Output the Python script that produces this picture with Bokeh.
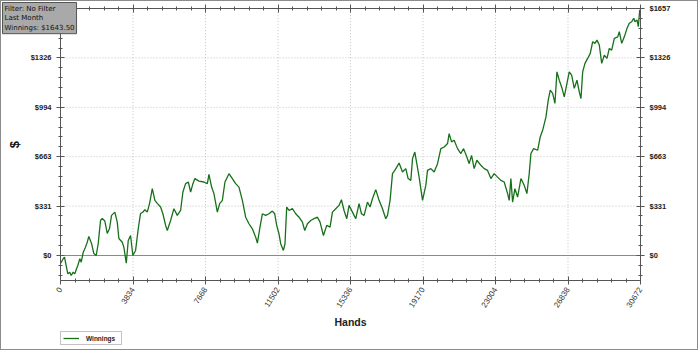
from bokeh.plotting import figure
from bokeh.models import (LinearAxis, FixedTicker, PrintfTickFormatter, Label,
                          Legend, LegendItem, Range1d)
from bokeh.embed import file_html
from bokeh.resources import INLINE

# ---- data ----
hands = [0, 143, 212, 318, 386, 492, 566, 672, 757, 847, 916, 1022, 1096, 1202, 1323, 1413,
         1498, 1641, 1763, 1890, 1995, 2117, 2207, 2345, 2472, 2594, 2699, 2874, 3001, 3086,
         3266, 3350, 3478, 3583, 3705, 3827, 3970, 4113, 4234, 4356, 4462, 4589, 4711, 4854,
         4991, 5118, 5293, 5415, 5558, 5648, 5822, 5997, 6177, 6352, 6473, 6616, 6759, 6881,
         7003, 7109, 7320, 7585, 7765, 7850, 7992, 8114, 8294, 8416, 8559, 8697, 8908, 9088,
         9263, 9438, 9618, 9792, 9967, 10147, 10322, 10412, 10549, 10676, 10851, 11025, 11205,
         11327, 11433, 11554, 11644, 11787, 11872, 11962, 12084, 12264, 12439, 12613, 12793,
         12915, 13058, 13233, 13407, 13587, 13725, 13905, 14079, 14254, 14381, 14556, 14730,
         14857, 14995, 15138, 15260, 15440, 15614, 15789, 15916, 16054, 16234, 16371, 16498,
         16673, 16847, 17027, 17202, 17292, 17429, 17556, 17678, 17906, 18086, 18261, 18383,
         18526, 18616, 18737, 18843, 18965, 19145, 19319, 19409, 19584, 19759, 19939, 20113,
         20288, 20468, 20553, 20680, 20817, 20997, 21172, 21315, 21490, 21611, 21738, 21876,
         22019, 22231, 22405, 22585, 22760, 22934, 23114, 23289, 23464, 23644, 23729, 23818,
         23908, 24030, 24173, 24348, 24522, 24665, 24787, 24877, 25020, 25232, 25369, 25496,
         25671, 25793, 25899, 26026, 26148, 26253, 26375, 26502, 26640, 26783, 26904, 27031,
         27169, 27312, 27434, 27524, 27614, 27735, 27878, 28016, 28143, 28265, 28371, 28493,
         28620, 28757, 28900, 29022, 29149, 29287, 29467, 29551, 29678, 29816, 29959, 30080,
         30207, 30313, 30382, 30488, 30557, 30631, 30672]
winnings = [-54, -22, -11, -79, -123, -112, -134, -112, -123, -89, -67, -22, -45, 22, 56, 89,
            128, 81, 13, 0, 81, 235, 249, 231, 148, 181, 269, 291, 224, 114,
            89, 56, -52, 101, 134, 0, 34, 181, 282, 291, 307, 291, 350, 448,
            370, 350, 325, 280, 202, 168, 235, 314, 269, 302, 426, 482, 493, 426,
            482, 516, 499, 493, 482, 544, 459, 415, 291, 348, 370, 493, 549, 516,
            482, 459, 370, 257, 213, 179, 123, 83, 190, 280, 269, 280, 298,
            280, 202, 146, 79, 34, 79, 325, 302, 314, 280, 257, 224,
            168, 213, 235, 247, 257, 224, 134, 202, 190, 291, 314, 336,
            374, 302, 247, 336, 291, 247, 348, 280, 269, 358, 325, 381,
            442, 370, 314, 247, 269, 370, 549, 571, 620, 560, 583, 516,
            504, 650, 694, 616, 526, 370, 470, 571, 583, 560, 616, 717,
            728, 751, 818, 762, 773, 717, 684, 717, 661, 616, 672, 583,
            639, 605, 583, 571, 516, 549, 526, 504, 493, 415, 370, 516,
            358, 448, 392, 516, 471, 415, 549, 684, 717, 706, 795, 840,
            928, 1042, 1109, 1087, 1020, 1232, 1176, 1131, 1064, 1154, 1232, 1210,
            1121, 1176, 1098, 1053, 1232, 1289, 1322, 1356, 1434, 1423, 1445, 1412,
            1289, 1344, 1322, 1389, 1378, 1457, 1467, 1501, 1423, 1467, 1524, 1558,
            1568, 1591, 1568, 1580, 1535, 1647, 1643.5]

x_ticks = [0, 3834, 7668, 11502, 15336, 19170, 23004, 26838, 30672]
y_ticks = [0, 331.4, 662.8, 994.2, 1325.6, 1657]
x_minor = [i * 766.8 for i in range(0, 41)]
y_minor = [i * 66.28 for i in range(-2, 26)]
y_low = -165.7
info_text = "Filter: No Filter\nLast Month\nWinnings: $1643.50"
series_name = "Winnings"

# ---- layout: the frame is the whole canvas; axes sit at fixed data positions ----
W, H = 698, 350
PX0, PX1 = 59, 639          # plot area, canvas px
PY_TOP, PY_ZERO = 7, 254
xs = (x_ticks[-1] - x_ticks[0]) / (PX1 - PX0)
ys = y_ticks[-1] / (PY_ZERO - PY_TOP)
x_range = Range1d(x_ticks[0] - PX0 * xs, x_ticks[-1] + (W - PX1) * xs)
y_range = Range1d(y_ticks[-1] - (H - PY_TOP) * ys, y_ticks[-1] + PY_TOP * ys)

AX = "#555555"
FONT = "Liberation Sans"

p = figure(width=W, height=H, output_backend="svg", toolbar_location=None,
           x_range=x_range, y_range=y_range,
           x_axis_location=None, y_axis_location=None,
           min_border=0)
p.title.visible = False
p.styles = {"border": "1px solid #8c8c8c"}
p.outline_line_color = None
p.background_fill_color = "white"
p.border_fill_color = "white"
p.grid.visible = False

xt = FixedTicker(ticks=x_ticks, minor_ticks=x_minor)
yt = FixedTicker(ticks=y_ticks, minor_ticks=y_minor)
xb = (x_ticks[0], x_ticks[-1])
yb = (y_low, y_ticks[-1])

# dotted grid
n = len(x_ticks)
p.segment(x0=x_ticks, y0=[y_low] * n, x1=x_ticks, y1=[y_ticks[-1]] * n,
          line_color="#c4c4c4", line_dash="1 2", line_width=1)
m = len(y_ticks)
p.segment(x0=[x_ticks[0]] * m, y0=y_ticks, x1=[x_ticks[-1]] * m, y1=y_ticks,
          line_color="#c4c4c4", line_dash="1 2", line_width=1)
# zero line
p.segment(x0=[x_ticks[0]], y0=[0], x1=[x_ticks[-1]], y1=[0],
          line_color="#8a8a8a", line_width=1)


def style(ax):
    ax.axis_line_color = AX
    ax.major_tick_line_color = AX
    ax.minor_tick_line_color = AX
    ax.major_tick_in = 4
    ax.major_tick_out = 4
    ax.minor_tick_in = 2
    ax.minor_tick_out = 2


bottom = LinearAxis(ticker=xt, formatter=PrintfTickFormatter(format="%d"),
                    fixed_location=y_low, bounds=xb)
style(bottom)
bottom.major_label_orientation = 1.0
bottom.major_label_text_font = FONT
bottom.major_label_text_font_size = "8px"
bottom.major_label_text_color = "#333333"
bottom.major_label_standoff = 4
bottom.axis_label = "Hands"
bottom.axis_label_text_font = FONT
bottom.axis_label_text_font_size = "10.5px"
bottom.axis_label_text_font_style = "bold"
bottom.axis_label_text_color = "#222222"
bottom.axis_label_standoff = 3
p.add_layout(bottom, "below")

top = LinearAxis(ticker=xt, fixed_location=y_ticks[-1], bounds=xb)
style(top)
top.major_label_text_color = None
top.major_label_text_alpha = 0
p.add_layout(top, "above")

for side, loc in (("left", x_ticks[0]), ("right", x_ticks[-1])):
    ax = LinearAxis(ticker=yt, formatter=PrintfTickFormatter(format="$%.0f"),
                    fixed_location=loc, bounds=yb)
    style(ax)
    ax.major_label_text_font = FONT
    ax.major_label_text_font_size = "7.5px"
    ax.major_label_text_font_style = "bold"
    ax.major_label_text_color = "#222222"
    ax.major_label_standoff = 5
    if side == "left":
        ax.axis_label = "$"
        ax.axis_label_text_font = FONT
        ax.axis_label_text_font_size = "13px"
        ax.axis_label_text_font_style = "bold"
        ax.axis_label_text_color = "#111111"
        ax.axis_label_standoff = 6
    p.add_layout(ax, side)

line = p.line(hands, winnings, line_color="#17701a", line_width=1.3)

legend = Legend(items=[LegendItem(label=series_name, renderers=[line])],
                location=(PX0, 6), orientation="vertical")
legend.label_text_font = FONT
legend.label_text_font_size = "6.5px"
legend.label_text_font_style = "bold"
legend.label_text_color = "#222222"
legend.label_height = 8
legend.label_standoff = 7
legend.glyph_height = 8
legend.glyph_width = 16
legend.padding = 2
legend.spacing = 0
legend.margin = 0
legend.label_width = 33
legend.border_line_color = "#888888"
legend.background_fill_color = "white"
legend.background_fill_alpha = 1
p.add_layout(legend, "center")

info = Label(x=1, y=H - 1, x_units="screen", y_units="screen", text=info_text,
             anchor="top_left", text_font="DejaVu Sans", text_font_size="7px",
             text_color="#111111", background_fill_color="#a9a9a9",
             border_line_color="#555555", padding=2)
p.add_layout(info)

open("out.html", "w").write(file_html(p, INLINE))
